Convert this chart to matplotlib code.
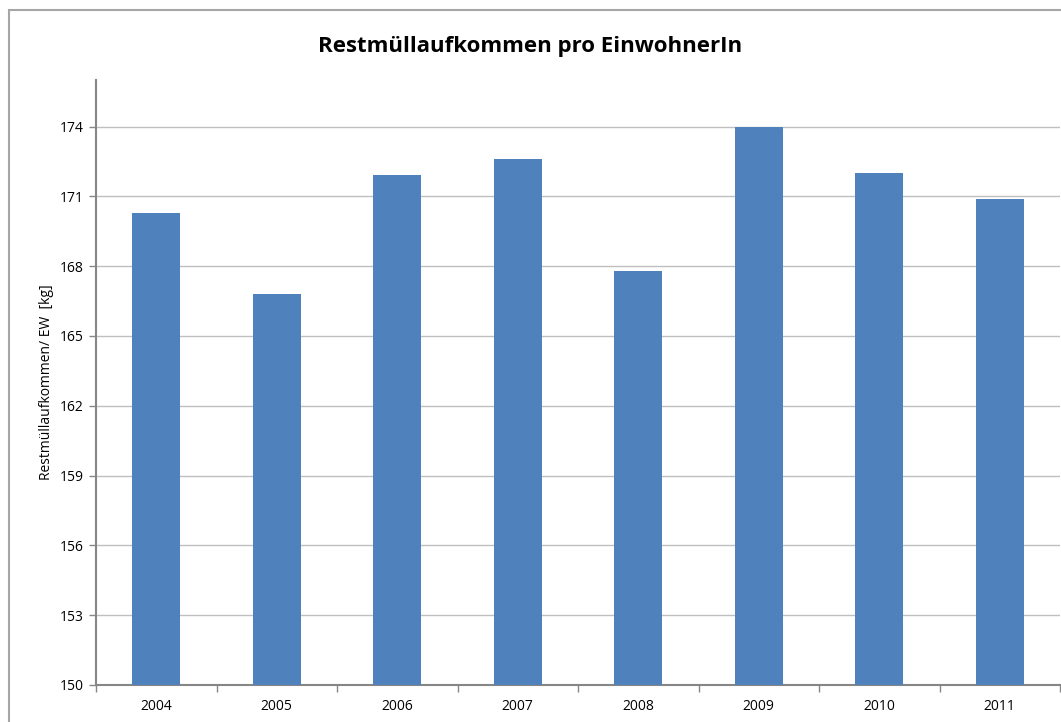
import matplotlib.pyplot as plt
from matplotlib.patches import Rectangle

years = ['2004', '2005', '2006', '2007', '2008', '2009', '2010', '2011']
values = [170.3, 166.8, 171.9, 172.6, 167.8, 174.0, 172.0, 170.9]
yticks = [150, 153, 156, 159, 162, 165, 168, 171, 174]

plt.rcParams['font.family'] = ['Open Sans', 'DejaVu Sans']

fig = plt.figure(figsize=(10.61, 7.22), dpi=100)
ax = fig.add_axes([96 / 1061, 37 / 722, 964 / 1061, 605 / 722])

# grey outer frame like the Excel chart area
fig.patches.append(Rectangle((9 / 1061, -0.01), 1.1, 712 / 722 + 0.01,
                             transform=fig.transFigure, fill=False,
                             edgecolor='#a6a6a6', linewidth=1.5))

x = range(len(years))
ax.bar(x, values, width=0.4, color='#4f81bd', zorder=3)

ax.set_xlim(-0.5, len(years) - 0.5)
ax.set_ylim(150, 176)
ax.set_yticks(yticks)
ax.set_xticks(list(x))
ax.set_xticklabels(years, fontsize=10)
ax.tick_params(axis='x', length=0, pad=10)
ax.set_xticks([i - 0.5 for i in range(len(years) + 1)], minor=True)
ax.tick_params(axis='x', which='minor', length=5, color='#868686', width=1)
ax.tick_params(axis='y', labelsize=10, length=5, color='#868686', width=1, pad=4)
ax.grid(axis='y', color='#bfbfbf', linewidth=1, zorder=0)

for side in ['top', 'right']:
    ax.spines[side].set_visible(False)
for side in ['left', 'bottom']:
    ax.spines[side].set_color('#868686')
    ax.spines[side].set_linewidth(1.5)

ax.set_ylabel('Restmüllaufkommen/ EW  [kg]', fontsize=10, labelpad=4)
fig.text(0.5, 0.935, 'Restmüllaufkommen pro EinwohnerIn', ha='center',
         va='center', fontsize=16, fontweight='bold')

fig.savefig('out.png', dpi=100)
